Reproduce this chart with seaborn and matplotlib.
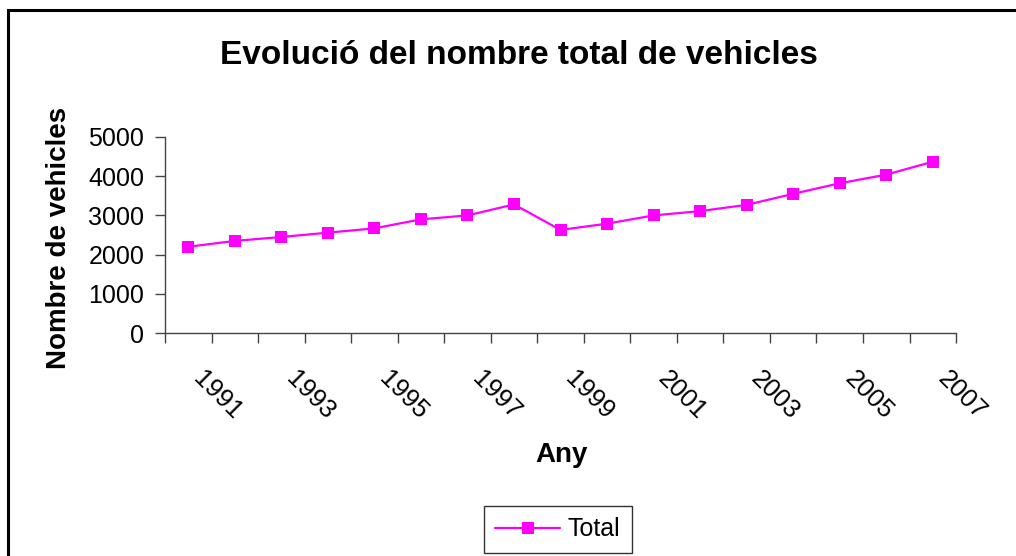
import matplotlib
matplotlib.use('Agg')
import matplotlib.pyplot as plt
import matplotlib.transforms as mtransforms
import seaborn as sns
import pandas as pd
from matplotlib.patches import Rectangle

years = list(range(1991, 2008))
vehicles = [2200, 2350, 2450, 2560, 2670, 2900, 3000, 3280, 2630,
            2790, 3000, 3110, 3270, 3550, 3820, 4040, 4370]
y_ticks = [0, 1000, 2000, 3000, 4000, 5000]

df = pd.DataFrame({'Any': years, 'Total': vehicles})

sns.set_style('white')
plt.rcParams['font.family'] = ['Liberation Sans', 'DejaVu Sans']
plt.rcParams['text.color'] = 'black'
plt.rcParams['xtick.color'] = 'black'
plt.rcParams['ytick.color'] = 'black'

fig = plt.figure(figsize=(10.16, 5.56), dpi=100)
ax = fig.add_axes([0.1624, 0.401, 0.7786, 0.3526])

pos = list(range(len(years)))
sns.lineplot(x=pos, y=df['Total'], ax=ax, color='#FF00FF', linewidth=1.6,
             marker='s', markersize=9, markeredgewidth=0, label='Total')

ax.set_xlim(-0.5, len(years) - 0.5)
ax.set_ylim(0, 5000)
ax.set_yticks(y_ticks)
ax.set_yticklabels([str(v) for v in y_ticks], fontsize=18)

# ticks at category boundaries, labels on every other category
ax.set_xticks([p - 0.5 for p in pos] + [len(years) - 0.5])
ax.set_xticklabels([])
ax.set_xticks(pos[::2], minor=True)
ax.set_xticklabels([str(y) for y in years[::2]], minor=True, fontsize=18.5,
                   rotation=-45, ha='left', va='top')
shift = mtransforms.ScaledTranslation(6 / 100, 0, fig.dpi_scale_trans)
for lbl in ax.get_xticklabels(minor=True):
    lbl.set_transform(lbl.get_transform() + shift)
ax.tick_params(axis='x', which='minor', bottom=True, length=0, pad=24)
ax.tick_params(axis='x', which='major', bottom=True, length=7, width=1,
               color='#444444', direction='out')
ax.tick_params(axis='y', left=True, length=7, width=1, color='#444444',
               labelcolor='black', direction='out', pad=8)

for s in ['top', 'right']:
    ax.spines[s].set_visible(False)
for s in ['left', 'bottom']:
    ax.spines[s].set_color('#444444')
    ax.spines[s].set_linewidth(1)

ax.set_xlabel('')
ax.set_ylabel('')
fig.text(0.553, 0.182, 'Any', fontsize=20, fontweight='bold', ha='center', va='center')
fig.text(0.058, 0.572, 'Nombre de vehicles', fontsize=20, fontweight='bold',
         ha='center', va='center', rotation=90)
fig.text(0.511, 0.901, 'Evolució del nombre total de vehicles', fontsize=24,
         fontweight='bold', ha='center', va='center')

leg = ax.legend(loc='center', bbox_to_anchor=(0.549, 0.048), bbox_transform=fig.transFigure,
                fontsize=18, frameon=True, fancybox=False, handlelength=2.6,
                borderpad=0.45, handletextpad=0.3)
leg.get_frame().set_edgecolor('black')
leg.get_frame().set_linewidth(1)
for t in leg.get_texts():
    t.set_color('black')

fig.patches.append(Rectangle((8 / 1016, -0.1), 1.2, (556 - 10) / 556 + 0.1,
                             transform=fig.transFigure, fill=False,
                             edgecolor='black', linewidth=2.2))

fig.savefig('out.png', dpi=100)
